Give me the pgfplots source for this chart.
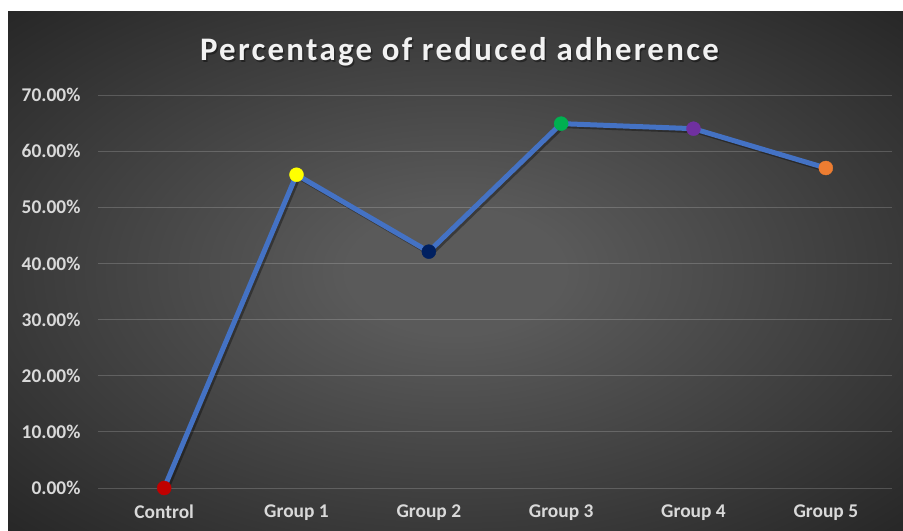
\documentclass[border=0pt]{standalone}
\usepackage{fontspec}
\setmainfont{Carlito}
\newfontfamily\titlefont[LetterSpace=7]{Carlito}
\usepackage{pgfplots}
\pgfplotsset{compat=1.18}

\definecolor{bgin}{HTML}{5A5A5A}
\definecolor{bgout}{HTML}{262626}
\definecolor{linecol}{HTML}{4472C4}
\definecolor{labcol}{HTML}{D9D9D9}
\definecolor{mred}{HTML}{C00000}
\definecolor{myellow}{HTML}{FFFF00}
\definecolor{mnavy}{HTML}{002060}
\definecolor{mgreen}{HTML}{00B050}
\definecolor{mpurple}{HTML}{7030A0}
\definecolor{morange}{HTML}{ED7D31}

\pgfdeclareradialshading{chartbg}{\pgfpoint{0bp}{0bp}}{%
  color(0bp)=(bgin); color(6bp)=(bgin); color(36bp)=(bgout); color(50bp)=(bgout)}

\begin{document}
\begin{tikzpicture}
  \useasboundingbox (0,0) rectangle (903bp,531bp);
  \fill[white] (0,0) rectangle (903bp,531bp);
  \shade[shading=chartbg] (8bp,0) rectangle (903bp,519bp);

  % title with a soft shadow
  \node[anchor=base, text=black, opacity=0.4, font=\fontsize{33}{35}\titlefont\bfseries]
    at (461bp,468.5bp) {Percentage of reduced adherence};
  \node[anchor=base, text=white!95!black, font=\fontsize{33}{35}\titlefont\bfseries]
    at (459.5bp,470bp) {Percentage of reduced adherence};

  \begin{axis}[
      at={(98bp,43bp)}, anchor=south west,
      scale only axis,
      width=794bp, height=393bp,
      xmin=-0.5, xmax=5.5,
      ymin=0, ymax=70,
      xtick={0,1,2,3,4,5},
      xticklabels={Control, Group 1, Group 2, Group 3, Group 4, Group 5},
      ytick={0,10,20,30,40,50,60,70},
      yticklabel={\pgfmathprintnumber[fixed, fixed zerofill, precision=2]{\tick}\%},
      /pgf/number format/assume math mode=true,
      ticklabel style={text=labcol, font=\fontsize{19.5}{21}\selectfont\bfseries},
      yticklabel style={xshift=-14bp},
      xticklabel style={yshift=-13bp},
      axis line style={draw=none},
      major tick length=0pt,
      ymajorgrids,
      grid style={white, opacity=0.18, line width=1bp},
      clip=false,
    ]
    % shadow of the line
    \addplot[black, opacity=0.35, line width=5bp, xshift=2bp, yshift=-2bp, no marks]
      coordinates {(0,0) (1,55.8) (2,42.1) (3,64.9) (4,64.0) (5,57.0)};
    \addplot[linecol, line width=5bp, no marks]
      coordinates {(0,0) (1,55.8) (2,42.1) (3,64.9) (4,64.0) (5,57.0)};
    \addplot[
        scatter, only marks,
        point meta=explicit symbolic,
        scatter/classes={
          a={mark=*, mred, mark size=7bp},
          b={mark=*, myellow, mark size=7bp},
          c={mark=*, mnavy, mark size=7bp},
          d={mark=*, mgreen, mark size=7bp},
          e={mark=*, mpurple, mark size=7bp},
          f={mark=*, morange, mark size=7bp}},
      ]
      coordinates {(0,0)[a] (1,55.8)[b] (2,42.1)[c] (3,64.9)[d] (4,64.0)[e] (5,57.0)[f]};
  \end{axis}
\end{tikzpicture}
\end{document}
